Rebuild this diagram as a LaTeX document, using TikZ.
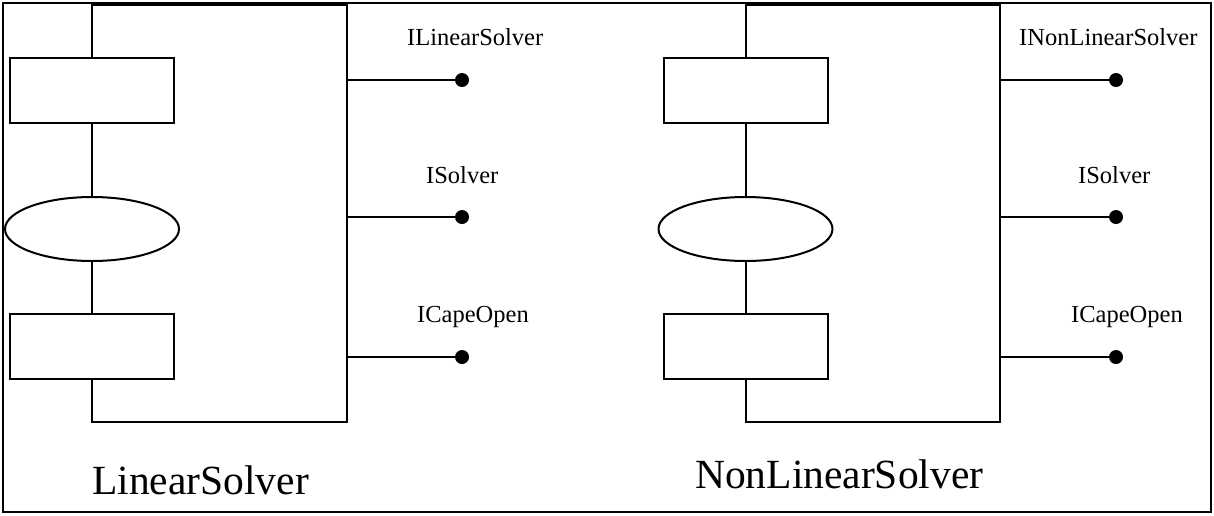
\documentclass[tikz,border=0pt]{standalone}
\usepackage{fontspec}
\setmainfont{Liberation Serif}
\usetikzlibrary{shapes.geometric}

\tikzset{
  frame/.style={draw, line width=2.7pt},
  wire/.style={draw, line width=2pt},
  blk/.style={draw, line width=2pt, rectangle, minimum width=164, minimum height=65, inner sep=0pt},
  oval/.style={draw, line width=2pt, ellipse, minimum width=174, minimum height=64, inner sep=0pt},
  port/.style={circle, fill=black, minimum size=14, inner sep=0pt},
  iface/.style={font=\fontsize{24.5}{28}\selectfont, inner sep=0pt, anchor=base west},
  title/.style={font=\fontsize{41.5}{48}\selectfont, inner sep=0pt, anchor=base west},
}

\begin{document}
\begin{tikzpicture}[x=1pt, y=-1pt]
\useasboundingbox (0,0) rectangle (1214,515);

% outer frame
\draw[frame] (3,3) rectangle (1211,512);

% ---------- LinearSolver component ----------
\node[blk]  (L1) at (92,90.5) {};
\node[oval] (L2) at (92,229) {};
\node[blk]  (L3) at (92,346.5) {};
\coordinate (Ltl) at (92,5);
\coordinate (Lbl) at (92,422);
\coordinate (Lbr) at (347,422);
\coordinate (Ltr) at (347,5);
\draw[wire] (L1) -- (L2);
\draw[wire] (L2) -- (L3);
\draw[wire] (L3) -- (Lbl) -- (Lbr) -- (Ltr) -- (Ltl) -- (L1);

\node[port] (Lp1) at (462,80) {};
\node[port] (Lp2) at (462,217) {};
\node[port] (Lp3) at (462,357) {};
\coordinate (Ls1) at (347,80);
\coordinate (Ls2) at (347,217);
\coordinate (Ls3) at (347,357);
\draw[wire] (Ls1) -- (Lp1);
\draw[wire] (Ls2) -- (Lp2);
\draw[wire] (Ls3) -- (Lp3);

\node[iface] (Li1) at (407,45) {ILinearSolver};
\node[iface] (Li2) at (426,183) {ISolver};
\node[iface] (Li3) at (417,322) {ICapeOpen};
\node[title] (Lt) at (92,494) {LinearSolver};

% ---------- NonLinearSolver component ----------
\node[blk]  (N1) at (745.5,90.5) {};
\node[oval] (N2) at (745.5,229) {};
\node[blk]  (N3) at (745.5,346.5) {};
\coordinate (Ntl) at (745.5,5);
\coordinate (Nbl) at (745.5,422);
\coordinate (Nbr) at (1000,422);
\coordinate (Ntr) at (1000,5);
\draw[wire] (N1) -- (N2);
\draw[wire] (N2) -- (N3);
\draw[wire] (N3) -- (Nbl) -- (Nbr) -- (Ntr) -- (Ntl) -- (N1);

\node[port] (Np1) at (1116,80) {};
\node[port] (Np2) at (1116,217) {};
\node[port] (Np3) at (1116,357) {};
\coordinate (Ns1) at (1000,80);
\coordinate (Ns2) at (1000,217);
\coordinate (Ns3) at (1000,357);
\draw[wire] (Ns1) -- (Np1);
\draw[wire] (Ns2) -- (Np2);
\draw[wire] (Ns3) -- (Np3);

\node[iface] (Ni1) at (1019,45) {INonLinearSolver};
\node[iface] (Ni2) at (1078,183) {ISolver};
\node[iface] (Ni3) at (1071,322) {ICapeOpen};
\node[title] (Nt) at (695,488) {NonLinearSolver};
\end{tikzpicture}
\end{document}
